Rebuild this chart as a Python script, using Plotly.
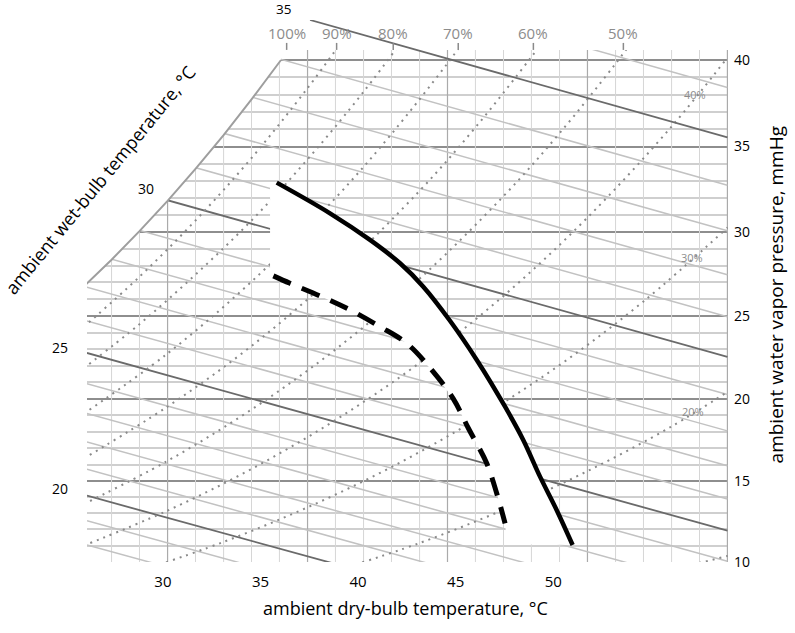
import plotly.graph_objects as go

# ------------------------------------------------------------------
# Values
#   x : ambient dry-bulb temperature, degC (as labelled under the chart)
#   p : ambient water vapour pressure, mmHg (right axis)
# The chart's vertical scale is linear in humidity ratio, so every
# pressure value is placed through hum() (the axis scale) below.
# ------------------------------------------------------------------
x_tick_vals = [30, 35, 40, 45, 50]
p_tick_vals = [10, 15, 20, 25, 30, 35, 40]
p_grid_vals = list(range(10, 41))

# vertical grid of the psychrometric background
grid_T_light = [27.37, 28.80, 31.67, 33.11, 34.54, 35.97, 38.84, 40.28, 41.71,
                43.15, 46.01, 47.45, 48.88, 50.32, 53.19, 54.62, 56.06, 57.49]
grid_T_dark = [30.24, 37.41, 44.58, 51.75, 58.92]
grid_p_low, grid_p_high = 9.9, 40.58

# saturation (100 %) curve
sat_T = [25.93, 27.37, 28.80, 30.24, 31.67, 33.11, 34.54, 36.05]
sat_p = [26.74, 28.35, 30.04, 31.82, 33.70, 35.66, 37.73, 40.00]

# relative-humidity curves (dotted)
rh90_T = [25.93, 28.80, 31.67, 34.54, 37.41, 39.13]
rh90_p = [24.33, 27.34, 30.67, 34.33, 38.38, 41.00]
rh80_T = [25.93, 28.80, 31.67, 34.54, 37.41, 40.28, 42.43]
rh80_p = [21.85, 24.51, 27.47, 30.67, 34.25, 38.17, 41.37]
rh70_T = [25.93, 30.24, 34.54, 38.84, 41.71, 44.58, 46.01]
rh70_p = [19.09, 22.75, 27.05, 31.99, 35.73, 39.81, 42.00]
rh60_T = [25.93, 30.24, 34.54, 38.84, 43.15, 46.01, 48.88, 50.32]
rh60_p = [16.36, 19.54, 23.20, 27.49, 32.41, 36.11, 40.18, 42.32]
rh50_T = [25.93, 30.24, 34.54, 38.84, 43.15, 47.45, 50.32, 53.19, 54.62]
rh50_p = [13.56, 16.23, 19.36, 22.99, 27.22, 32.10, 35.77, 39.79, 41.95]
rh40_T = [25.93, 30.24, 34.54, 38.84, 43.15, 47.45, 51.75, 56.06, 58.93]
rh40_p = [10.99, 13.17, 15.73, 18.72, 22.18, 26.20, 30.84, 36.16, 40.15]
rh30_T = [28.80, 33.11, 37.41, 41.71, 46.01, 50.32, 54.62, 58.93]
rh30_p = [9.40, 11.23, 13.37, 15.85, 18.73, 22.05, 25.87, 30.25]
rh20_T = [38.84, 43.15, 47.45, 51.75, 56.06, 58.93]
rh20_p = [9.42, 11.16, 13.22, 15.60, 18.33, 20.44]
rh10_T = [56.77, 58.93]
rh10_p = [9.70, 10.36]

rh_top_labels = ["100%", "90%", "80%", "70%", "60%", "50%"]
rh_top_T = [36.34, 38.90, 41.80, 45.13, 48.98, 53.59]
rh_in_labels = ["40%", "30%", "20%"]
rh_in_T = [57.25, 57.10, 57.15]
rh_in_p = [37.99, 28.46, 19.21]

# wet-bulb lines (straight), start / end points
wb_Tw = [18, 19, 20, 21, 22, 23, 24, 25, 26, 27, 28, 29, 30, 31, 32, 33, 34, 36]
wb_T0 = [26.11] * len(wb_Tw)
wb_p0 = [11.04, 12.54, 14.09, 15.71, 17.38, 19.12, 20.92, 22.78, 24.70, 26.71,
         28.79, 30.95, 33.18, 35.54, 37.99, 40.53, 43.16, 48.70]
wb_T1 = [31.72, 36.21, 40.89, 45.74, 50.80, 56.05, 58.92, 58.92, 58.92, 58.92,
         58.92, 58.92, 58.92, 58.92, 58.92, 58.92, 58.92, 58.92]
wb_p1 = [9.17, 9.17, 9.17, 9.17, 9.17, 9.17, 10.03, 11.93, 13.89, 15.93,
         18.06, 20.27, 22.55, 24.95, 27.46, 30.06, 32.74, 38.42]
wb35_T = [37.54, 58.92]
wb35_p = [42.29, 35.53]
# wet-bulb labels: "35" and "30" sit over the saturation curve, "25" and "20" left of the chart
wb_top_text, wb_top_T = ["35", "30"], [36.17, 29.11]
wb_left_text, wb_left_p = ["25", "20"], [23.08, 14.56]
wb30_label_p = 32.56

# the two black curves
solid_T = [35.83, 38.56, 40.61, 42.15, 43.34, 44.68, 46.08, 47.53, 48.46, 49.32, 50.17, 50.99]
solid_p = [32.89, 31.09, 29.52, 28.14, 26.75, 24.76, 22.36, 19.53, 17.51, 15.26, 13.21, 11.04]
dashed_T = [35.66, 36.51, 38.14, 39.59, 41.12, 42.49, 43.77, 44.88, 45.65, 46.59, 47.10, 47.53]
dashed_p = [27.39, 26.95, 26.15, 25.36, 24.36, 23.36, 21.76, 20.01, 18.22, 16.08, 14.24, 12.38]

# cleared (white) area of the background around the curves
clear_T = [35.49] + solid_T + [47.62] + dashed_T[::-1] + [35.49]
clear_p = [32.81] + solid_p + [11.10] + dashed_p[::-1] + [27.33]

# ------------------------------------------------------------------
P_ATM = 760.0


def hum(p):
    """vertical scale of the chart: humidity ratio (g/kg) for a vapour pressure (mmHg)"""
    return 622.0 * p / (P_ATM - p)


fig = go.Figure()


def add_segments(x0, p0, x1, p1, color, width, dash=None):
    xs, ys = [], []
    for a, b, c, d in zip(x0, p0, x1, p1):
        xs += [a, c, None]
        ys += [hum(b), hum(d), None]
    fig.add_trace(go.Scatter(x=xs, y=ys, mode="lines", hoverinfo="skip", showlegend=False,
                             line=dict(color=color, width=width, dash=dash)))


def add_curve(T, p, color, width, dash=None, shape="spline"):
    fig.add_trace(go.Scatter(x=T, y=[hum(v) for v in p], mode="lines", hoverinfo="skip",
                             showlegend=False,
                             line=dict(color=color, width=width, dash=dash, shape=shape)))


# background grid
n_l, n_d = len(grid_T_light), len(grid_T_dark)
add_segments(grid_T_light, [grid_p_low] * n_l, grid_T_light, [grid_p_high] * n_l, "#d6d6d6", 1)
add_segments(grid_T_dark, [grid_p_low] * n_d, grid_T_dark, [grid_p_high] * n_d, "#aaaaaa", 1.2)

# wet-bulb lines
light_idx = [i for i, t in enumerate(wb_Tw) if t % 5]
dark_idx = [i for i, t in enumerate(wb_Tw) if t % 5 == 0]
add_segments([wb_T0[i] for i in light_idx], [wb_p0[i] for i in light_idx],
             [wb_T1[i] for i in light_idx], [wb_p1[i] for i in light_idx], "#c2c2c2", 1.5)
add_segments([wb_T0[i] for i in dark_idx], [wb_p0[i] for i in dark_idx],
             [wb_T1[i] for i in dark_idx], [wb_p1[i] for i in dark_idx], "#6a6a6a", 1.8)

# relative humidity curves
for T, p in [(rh90_T, rh90_p), (rh80_T, rh80_p), (rh70_T, rh70_p), (rh60_T, rh60_p),
             (rh50_T, rh50_p), (rh40_T, rh40_p), (rh30_T, rh30_p), (rh20_T, rh20_p),
             (rh10_T, rh10_p)]:
    add_curve(T, p, "#8a8a8a", 2, dash="2px,5px")

# white: outside the saturation curve and above the chart
mask_T = [24.0] + sat_T + [sat_T[-1], 60.0, 60.0, 24.0]
mask_p = [sat_p[0]] + sat_p + [grid_p_high, grid_p_high, 44.0, 44.0]
fig.add_trace(go.Scatter(x=mask_T, y=[hum(v) for v in mask_p], mode="lines", fill="toself",
                         fillcolor="white", line=dict(width=0, color="white"),
                         hoverinfo="skip", showlegend=False))
# white: cleared area between the curves
fig.add_trace(go.Scatter(x=clear_T, y=[hum(v) for v in clear_p], mode="lines", fill="toself",
                         fillcolor="white", line=dict(width=0, color="white"),
                         hoverinfo="skip", showlegend=False))

# saturation curve, 35 degC wet-bulb line and RH ticks on top
add_curve(sat_T, sat_p, "#9e9e9e", 2, shape="linear")
add_curve(wb35_T, wb35_p, "#6a6a6a", 1.8, shape="linear")
n_t = len(rh_top_T)
add_segments(rh_top_T, [40.58] * n_t, rh_top_T, [40.98] * n_t, "#8a8a8a", 1.5)

# black curves
add_curve(dashed_T, dashed_p, "black", 5, dash="19px,12px")
add_curve(solid_T, solid_p, "black", 4.5)

ann = []
for t, x in zip(rh_top_labels, rh_top_T):
    ann.append(dict(x=x, y=hum(41.54), xref="x", yref="y", text=t, showarrow=False,
                    font=dict(size=15, color="#8c8c8c"), xanchor="center", yanchor="middle"))
for t, x, p in zip(rh_in_labels, rh_in_T, rh_in_p):
    ann.append(dict(x=x, y=hum(p), xref="x", yref="y", text=t, showarrow=False,
                    font=dict(size=11, color="#8c8c8c"), xanchor="center", yanchor="middle"))
# "35" (above the plotting area), "30" (inside)
ann.append(dict(x=wb_top_T[0], y=1.0195, xref="x", yref="paper", text=wb_top_text[0],
                showarrow=False, font=dict(size=13.5, color="black"),
                xanchor="center", yanchor="middle"))
ann.append(dict(x=wb_top_T[1], y=hum(wb30_label_p), xref="x", yref="y", text=wb_top_text[1],
                showarrow=False, font=dict(size=14, color="black"),
                xanchor="center", yanchor="middle"))
for t, p in zip(wb_left_text, wb_left_p):
    ann.append(dict(x=-0.042, y=hum(p), xref="paper", yref="y", text=t, showarrow=False,
                    font=dict(size=14, color="black"), xanchor="center", yanchor="middle"))

ann.append(dict(x=0.497, y=-0.085, xref="paper", yref="paper",
                text="ambient dry-bulb temperature, °C", showarrow=False,
                font=dict(size=18, color="black"), xanchor="center", yanchor="middle"))
ann.append(dict(x=1.075, y=0.492, xref="paper", yref="paper",
                text="ambient water vapor pressure, mmHg", showarrow=False, textangle=-90,
                font=dict(size=19, color="black"), xanchor="center", yanchor="middle"))
ann.append(dict(x=0.020, y=0.705, xref="paper", yref="paper",
                text="ambient wet-bulb temperature, °C", showarrow=False, textangle=-50.7,
                font=dict(size=18, color="black"), xanchor="center", yanchor="middle"))

fig.update_layout(
    width=795, height=633,
    margin=dict(l=87, r=67, t=20, b=71),
    plot_bgcolor="white", paper_bgcolor="white",
    showlegend=False,
    font=dict(family="Open Sans", color="black"),
    annotations=ann,
    xaxis=dict(range=[26.112, 58.95], tickmode="array", tickvals=x_tick_vals,
               ticktext=[str(v) for v in x_tick_vals], showgrid=False, zeroline=False,
               showline=False, ticks="", tickfont=dict(size=15, color="black"),
               ticklabelstandoff=9, automargin=False),
    yaxis=dict(range=[hum(9.98), hum(42.29)], side="right", tickmode="array",
               tickvals=[hum(v) for v in p_tick_vals], ticktext=[str(v) for v in p_tick_vals],
               showgrid=True, gridcolor="#8e8e8e", gridwidth=2,
               minor=dict(tickmode="array", tickvals=[hum(v) for v in p_grid_vals],
                          showgrid=True, gridcolor="#cfcfcf", gridwidth=1.6),
               zeroline=False, showline=False, ticks="",
               tickfont=dict(size=14, color="black"), ticklabelstandoff=5,
               automargin=False),
)

fig.write_html("out.html", config={"displayModeBar": False},
               post_script="document.body.style.margin='0';document.body.style.padding='0';")
